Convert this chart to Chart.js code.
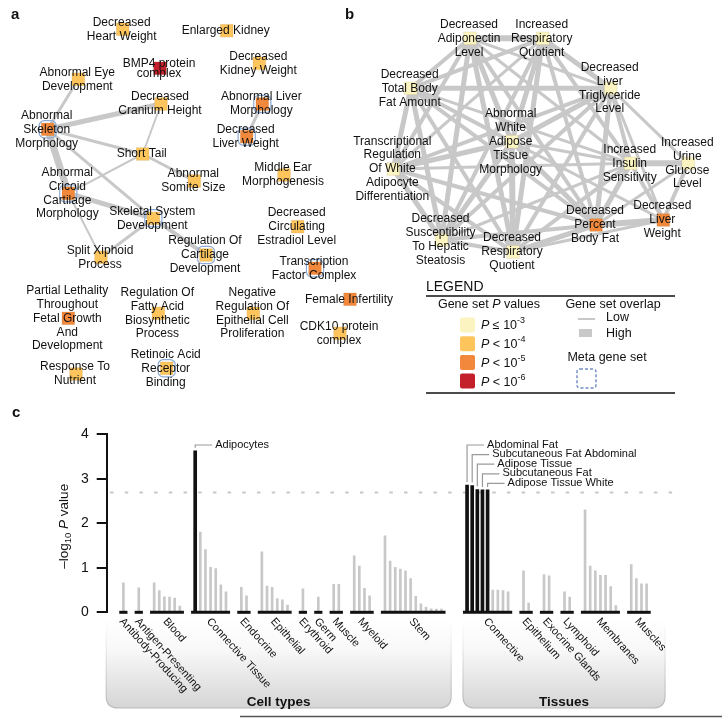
<!DOCTYPE html>
<html>
<head>
<meta charset="utf-8">
<script src="https://cdn.jsdelivr.net/npm/chart.js@4.4.1/dist/chart.umd.min.js"></script>
<style>
  body { margin: 0; background: #fff; }
  #page { position: relative; width: 722px; height: 719px; overflow: hidden; }
  canvas { position: absolute; }
  #chartA { left: 0; top: 0; }
  #chartB { left: 340px; top: 0; }
  #chartC { left: 0; top: 395px; }
</style>
</head>
<body>
<div id="page">
  <canvas id="chartA" width="400" height="400"></canvas>
  <canvas id="chartB" width="382" height="400"></canvas>
  <canvas id="chartC" width="722" height="324"></canvas>
</div>
<script>
// SETTINGS -------------------------------------------------------------------

const FONT = '"Liberation Sans", Arial, Helvetica, sans-serif'
Chart.defaults.font.family = FONT
Chart.defaults.animation = false

// P value classes: 1 = P <= 10^-3 ... 4 = P < 10^-6
const levelColors = ['#fbf4c1', '#fdc55c', '#f1883b', '#c3202b']
const levelSigns = ['≤', '<', '<', '<']
const levelExponents = ['-3', '-4', '-5', '-6']
const edgeColor = '#c8c8c8'

// PANEL A DATA ---------------------------------------------------------------

const aLabels = [
    ['Decreased', 'Heart Weight'],
    ['Enlarged Kidney'],
    ['BMP4 protein', 'complex'],
    ['Decreased', 'Kidney Weight'],
    ['Abnormal Eye', 'Development'],
    ['Decreased', 'Cranium Height'],
    ['Abnormal Liver', 'Morphology'],
    ['Abnormal', 'Skeleton', 'Morphology'],
    ['Decreased', 'Liver Weight'],
    ['Short Tail'],
    ['Abnormal', 'Somite Size'],
    ['Middle Ear', 'Morphogenesis'],
    ['Abnormal', 'Cricoid', 'Cartilage', 'Morphology'],
    ['Skeletal System', 'Development'],
    ['Decreased', 'Circulating', 'Estradiol Level'],
    ['Split Xiphoid', 'Process'],
    ['Regulation Of', 'Cartilage', 'Development'],
    ['Transcription', 'Factor Complex'],
    ['Partial Lethality', 'Throughout', 'Fetal Growth', 'And', 'Development'],
    ['Regulation Of', 'Fatty Acid', 'Biosynthetic', 'Process'],
    ['Negative', 'Regulation Of', 'Epithelial Cell', 'Proliferation'],
    ['Female Infertility'],
    ['CDK10 protein', 'complex'],
    ['Retinoic Acid', 'Receptor', 'Binding'],
    ['Response To', 'Nutrient']
]
const aX = [122.7, 226.7, 160, 259.3, 78.3, 161, 262.3, 47.7, 246.7, 142.7, 194.3, 284, 68.3,
    153.3, 297.7, 101, 206, 315, 68.3, 158.3, 253.3, 350, 340, 166.7, 76]
const aY = [29.3, 30.7, 68.3, 63.3, 79.3, 104, 104, 129.3, 136.7, 154, 181, 175, 193.3,
    218.3, 226.7, 257.3, 255, 268.3, 318.3, 313.3, 313.3, 299.3, 333.3, 368.3, 374]
const aLevel = [2, 2, 4, 2, 2, 2, 3, 3, 3, 2, 2, 2, 3, 2, 2, 2, 2, 3, 3, 2, 2, 3, 2, 2, 2]
const aMeta = [6, 7, 8, 12, 13, 16, 17, 23]
// [from, to, overlap width]
const aEdges = [
    [4, 7, 3], [5, 7, 5], [5, 9, 2], [7, 9, 3], [7, 12, 7], [7, 13, 3], [9, 10, 3],
    [9, 12, 2], [6, 8, 3], [12, 13, 5], [12, 15, 2], [13, 15, 3], [13, 16, 4]
]

// PANEL B DATA ---------------------------------------------------------------

const bLabels = [
    ['Decreased', 'Adiponectin', 'Level'],
    ['Increased', 'Respiratory', 'Quotient'],
    ['Decreased', 'Total Body', 'Fat Amount'],
    ['Decreased', 'Liver', 'Triglyceride', 'Level'],
    ['Abnormal', 'White', 'Adipose', 'Tissue', 'Morphology'],
    ['Transcriptional', 'Regulation', 'Of White', 'Adipocyte', 'Differentiation'],
    ['Increased', 'Insulin', 'Sensitivity'],
    ['Increased', 'Urine', 'Glucose', 'Level'],
    ['Decreased', 'Susceptibility', 'To Hepatic', 'Steatosis'],
    ['Decreased', 'Respiratory', 'Quotient'],
    ['Decreased', 'Percent', 'Body Fat'],
    ['Decreased', 'Liver', 'Weight']
]
const bX = [470, 542.7, 410.7, 610.7, 511.7, 393.3, 630.7, 688.3, 441.5, 513, 596, 663.3]
const bY = [38.3, 38.3, 88.3, 88.3, 141.7, 169, 163.3, 163.3, 240, 252, 225, 220]
const bLevel = [1, 1, 1, 1, 1, 1, 1, 1, 1, 1, 3, 3]
const bEdges = [
    [0, 1, 6], [0, 2, 4], [0, 3, 3], [0, 4, 5], [0, 5, 4], [0, 6, 3], [0, 8, 5], [0, 9, 5], [0, 10, 4],
    [1, 2, 4], [1, 3, 5], [1, 4, 5], [1, 5, 3], [1, 6, 4], [1, 8, 4], [1, 9, 5], [1, 10, 4],
    [2, 3, 5], [2, 4, 4], [2, 5, 5], [2, 6, 3], [2, 8, 5], [2, 9, 4], [2, 10, 4],
    [3, 4, 5], [3, 5, 4], [3, 6, 4], [3, 7, 3], [3, 8, 4], [3, 9, 4], [3, 10, 5], [3, 11, 3],
    [4, 5, 5], [4, 6, 3], [4, 8, 5], [4, 9, 6], [4, 10, 5], [4, 11, 3],
    [5, 6, 3], [5, 8, 5], [5, 9, 4], [5, 10, 4],
    [6, 7, 6], [6, 8, 3], [6, 9, 4], [6, 10, 5], [6, 11, 4],
    [7, 10, 3], [7, 11, 4],
    [8, 9, 4], [8, 10, 4], [9, 10, 5], [9, 11, 3], [10, 11, 6]
]

// PANEL C DATA ---------------------------------------------------------------

const cellGroups = ['Antibody-Producing', 'Antigen-Presenting', 'Blood', 'Connective Tissue', 'Endocrine',
    'Epithelial', 'Erythroid', 'Germ', 'Muscle', 'Myeloid', 'Stem']
const cellValues = [
    [0.66],
    [0.55],
    [0.66, 0.49, 0.35, 0.34, 0.32, 0.14],
    [3.63, 1.80, 1.41, 1.01, 0.98, 0.62, 0.46],
    [0.56, 0.37],
    [1.36, 0.59, 0.56, 0.31, 0.28, 0.16],
    [0.53],
    [0.34],
    [0.63, 0.63],
    [1.27, 1.04, 0.54, 0.37],
    [1.72, 1.15, 1.01, 0.97, 0.93, 0.76, 0.36, 0.19, 0.12, 0.08, 0.07, 0.07]
]
const tissueGroups = ['Connective', 'Epithelium', 'Exocrine Glands', 'Lymphoid', 'Membranes', 'Muscles']
const tissueValues = [
    [2.86, 2.85, 2.76, 2.75, 2.75, 0.50, 0.50, 0.49, 0.46],
    [0.93, 0.21],
    [0.85, 0.82],
    [0.46, 0.34],
    [2.30, 1.04, 0.93, 0.83, 0.83, 0.58, 0.15],
    [1.07, 0.76, 0.64, 0.64]
]
const threshold = 2.69
const cellHits = ['Adipocytes']
const tissueHits = ['Abdominal Fat', 'Subcutaneous Fat Abdominal', 'Adipose Tissue', 'Subcutaneous Fat', 'Adipose Tissue White']
const yTicks = [0, 1, 2, 3, 4]

// HELPER FUNCTIONS -----------------------------------------------------------

// draws text made of parts with own font / vertical shift
function drawRich(ctx, parts, x, y, align) {
    let total = 0
    parts.forEach((p) => {
        ctx.font = p.font
        p.w = ctx.measureText(p.text).width
        total += p.w
    })
    let cx = align === 'center' ? x - total / 2 : x
    ctx.textAlign = 'left'
    parts.forEach((p) => {
        ctx.font = p.font
        ctx.fillText(p.text, cx, y + (p.dy || 0))
        cx += p.w
    })
}

function roundRect(ctx, x, y, w, h, r) {
    ctx.beginPath()
    ctx.moveTo(x + r, y)
    ctx.lineTo(x + w - r, y)
    ctx.quadraticCurveTo(x + w, y, x + w, y + r)
    ctx.lineTo(x + w, y + h - r)
    ctx.quadraticCurveTo(x + w, y + h, x + w - r, y + h)
    ctx.lineTo(x + r, y + h)
    ctx.quadraticCurveTo(x, y + h, x, y + h - r)
    ctx.lineTo(x, y + r)
    ctx.quadraticCurveTo(x, y, x + r, y)
    ctx.closePath()
}

function labelPlugin(labels, extraDraw) {
    return {
        id: 'nodeLabels',
        afterDatasetsDraw(chart) {
            const meta = chart.getDatasetMeta(0)
            const ctx = chart.ctx
            ctx.save()
            ctx.font = `12px ${FONT}`
            ctx.fillStyle = '#111'
            ctx.textAlign = 'center'
            ctx.textBaseline = 'middle'
            labels.forEach((lines, i) => {
                const pt = meta.data[i]
                const lh = lines[0] === 'BMP4 protein' ? 10 : 13.9
                const top = pt.y - (lines.length - 1) * lh / 2
                lines.forEach((line, k) => ctx.fillText(line, pt.x - 1, top + k * lh))
            })
            if (extraDraw) extraDraw(chart, ctx)
            ctx.restore()
        }
    }
}

// NETWORK CHARTS -------------------------------------------------------------

function buildNetwork(canvasId, labels, xs, ys, levels, metaNodes, edges, xRange, extraDraw) {
    const node = (i) => ({x: xs[i], y: ys[i]})
    const datasets = [
        {
            data: xs.map((x, i) => node(i)),
            pointStyle: 'rect',
            pointRadius: 9,
            pointBackgroundColor: levels.map((l) => levelColors[l - 1]),
            pointBorderColor: 'rgba(120,100,40,0.12)',
            pointBorderWidth: 1,
            order: 0
        },
        {
            data: metaNodes.map((i) => node(i)),
            pointStyle: 'rectRounded',
            pointRadius: 10,
            pointBackgroundColor: 'rgba(0,0,0,0)',
            pointBorderColor: '#8dabd6',
            pointBorderWidth: 1.2,
            order: 1
        }
    ]
    edges.forEach(([a, b, w]) => datasets.push({
        data: [node(a), node(b)],
        showLine: true,
        borderColor: edgeColor,
        borderWidth: w,
        pointRadius: 0,
        order: 2
    }))
    new Chart(document.getElementById(canvasId), {
        type: 'scatter',
        data: {datasets: datasets},
        options: {
            responsive: false,
            animation: false,
            events: [],
            layout: {padding: 0, autoPadding: false},
            plugins: {legend: {display: false}, tooltip: {enabled: false}},
            scales: {
                x: {type: 'linear', display: false, min: xRange[0], max: xRange[1]},
                y: {type: 'linear', display: false, min: 0, max: 400, reverse: true}
            }
        },
        plugins: [labelPlugin(labels, extraDraw)]
    })
}

function drawLetter(ctx, text, x, y) {
    ctx.font = `bold 15px ${FONT}`
    ctx.fillStyle = '#111'
    ctx.textAlign = 'left'
    ctx.textBaseline = 'alphabetic'
    ctx.fillText(text, x, y)
}

function drawLegendB(chart, ctx) {
    const px = (v) => chart.scales.x.getPixelForValue(v)
    const py = (v) => chart.scales.y.getPixelForValue(v)
    drawLetter(ctx, 'b', px(345), py(19))

    ctx.fillStyle = '#111'
    ctx.textBaseline = 'middle'
    ctx.font = `14px ${FONT}`
    ctx.textAlign = 'left'
    ctx.fillText('LEGEND', px(426), py(287))
    ctx.strokeStyle = '#111'
    ctx.lineWidth = 1.5
    ctx.beginPath()
    ctx.moveTo(px(426), py(296)); ctx.lineTo(px(675), py(296))
    ctx.moveTo(px(426), py(393)); ctx.lineTo(px(675), py(393))
    ctx.stroke()

    const f = `12.5px ${FONT}`
    const fi = `italic 12.5px ${FONT}`
    drawRich(ctx, [{text: 'Gene set ', font: f}, {text: 'P', font: fi}, {text: ' values', font: f}], px(489), py(305), 'center')
    levelColors.forEach((c, i) => {
        const cy = py(325 + i * 18.7)
        ctx.fillStyle = c
        roundRect(ctx, px(460), cy - 7.5, 15, 15, 2)
        ctx.fill()
        ctx.fillStyle = '#111'
        drawRich(ctx, [
            {text: 'P', font: fi},
            {text: ` ${levelSigns[i]} 10`, font: f},
            {text: levelExponents[i], font: `9px ${FONT}`, dy: -5}
        ], px(481), cy + 1, 'left')
    })

    ctx.textAlign = 'center'
    ctx.font = f
    ctx.fillText('Gene set overlap', px(613), py(305))
    ctx.textAlign = 'left'
    ctx.fillText('Low', px(606), py(318))
    ctx.fillText('High', px(606), py(334))
    ctx.strokeStyle = edgeColor
    ctx.lineWidth = 2
    ctx.beginPath(); ctx.moveTo(px(578), py(319)); ctx.lineTo(px(595), py(319)); ctx.stroke()
    ctx.fillStyle = edgeColor
    ctx.fillRect(px(579), py(329), 13, 8)

    ctx.fillStyle = '#111'
    ctx.textAlign = 'center'
    ctx.fillText('Meta gene set', px(607), py(358))
    ctx.strokeStyle = '#7590c4'
    ctx.lineWidth = 1.5
    ctx.setLineDash([3, 2])
    roundRect(ctx, px(577), py(369), 19, 19, 3)
    ctx.stroke()
    ctx.setLineDash([])
}

buildNetwork('chartA', aLabels, aX, aY, aLevel, aMeta, aEdges, [0, 400],
    (chart, ctx) => drawLetter(ctx, 'a', chart.scales.x.getPixelForValue(11), chart.scales.y.getPixelForValue(19)))
buildNetwork('chartB', bLabels, bX, bY, bLevel, [], bEdges, [340, 722], drawLegendB)

// BAR CHART ------------------------------------------------------------------

function layoutGroups(names, values, start) {
    let pos = start
    return names.map((name, i) => {
        const g = {name: name, first: pos, last: pos + values[i].length - 1, values: values[i]}
        pos = g.last + 3
        return g
    })
}

const cellLayout = layoutGroups(cellGroups, cellValues, 0)
const cellEnd = cellLayout[cellLayout.length - 1].last
const tissueLayout = layoutGroups(tissueGroups, tissueValues, cellEnd + 5)
const allGroups = cellLayout.concat(tissueLayout)

const grayBars = []
const blackBars = []
allGroups.forEach((g) => g.values.forEach((v, k) => (v > threshold ? blackBars : grayBars).push({x: g.first + k, y: v})))

const underlines = allGroups.map((g) => ({
    type: 'line',
    data: [{x: g.first - 0.8, y: 0}, {x: g.last + 0.8, y: 0}],
    borderColor: '#111',
    borderWidth: 3,
    pointRadius: 0,
    clip: false,
    order: 1
}))

const barDecorations = {
    id: 'barDecorations',
    beforeDatasetsDraw(chart) {
        const ctx = chart.ctx
        const xs = chart.scales.x
        const panels = [
            [xs.getPixelForValue(cellLayout[0].first - 3.35), xs.getPixelForValue(cellEnd + 1.9), 'Cell types'],
            [xs.getPixelForValue(tissueLayout[0].first - 0.8), xs.getPixelForValue(tissueLayout[tissueLayout.length - 1].last + 3.6), 'Tissues']
        ]
        const top = 224, bottom = 313
        ctx.save()
        panels.forEach(([l, r, title]) => {
            const fill = ctx.createLinearGradient(0, top, 0, bottom)
            fill.addColorStop(0, 'rgba(255,255,255,1)')
            fill.addColorStop(0.35, 'rgba(248,248,248,1)')
            fill.addColorStop(1, '#d5d5d5')
            const line = ctx.createLinearGradient(0, top, 0, bottom)
            line.addColorStop(0, 'rgba(200,200,200,0)')
            line.addColorStop(1, '#b8b8b8')
            roundRect(ctx, l, top, r - l, bottom - top, 12)
            ctx.fillStyle = fill
            ctx.fill()
            ctx.strokeStyle = line
            ctx.lineWidth = 1.2
            ctx.stroke()
            ctx.fillStyle = '#111'
            ctx.font = `bold 13.5px ${FONT}`
            ctx.textAlign = 'center'
            ctx.textBaseline = 'alphabetic'
            ctx.fillText(title, (l + r) / 2, 311)
        })
        ctx.restore()
    },
    afterDraw(chart) {
        const ctx = chart.ctx
        const xs = chart.scales.x
        const ys = chart.scales.y
        ctx.save()
        // group labels
        ctx.fillStyle = '#111'
        ctx.font = `11px ${FONT}`
        ctx.textAlign = 'left'
        ctx.textBaseline = 'top'
        allGroups.forEach((g) => {
            ctx.save()
            ctx.translate(xs.getPixelForValue((g.first + g.last) / 2) + 2, 221)
            ctx.rotate(48 * Math.PI / 180)
            ctx.fillText(g.name, 0, 0)
            ctx.restore()
        })
        // labels of significant bars
        ctx.strokeStyle = '#9a9a9a'
        ctx.lineWidth = 1.2
        ctx.textBaseline = 'middle'
        const cellSig = blackBars.filter((b) => b.x <= cellEnd)
        const tissueSig = blackBars.filter((b) => b.x > cellEnd)
        ;[[cellSig, cellHits], [tissueSig, tissueHits]].forEach(([bars, names]) => {
            bars.forEach((b, i) => {
                const bx = xs.getPixelForValue(b.x)
                const by = ys.getPixelForValue(b.y)
                const ly = ys.getPixelForValue(3.76) + i * 9.6
                ctx.beginPath()
                ctx.moveTo(bx, by - 3)
                ctx.lineTo(bx, ly)
                ctx.lineTo(bx + 17, ly)
                ctx.stroke()
                ctx.fillText(names[i], bx + 20, ly - 0.5)
            })
        })
        // y axis title
        ctx.save()
        ctx.translate(64, ys.getPixelForValue(2) + 3)
        ctx.rotate(-Math.PI / 2)
        ctx.textBaseline = 'middle'
        const f = `13.5px ${FONT}`
        drawRich(ctx, [
            {text: '–log', font: f},
            {text: '10', font: `9.5px ${FONT}`, dy: 4},
            {text: ' ', font: f},
            {text: 'P', font: `italic 13.5px ${FONT}`},
            {text: ' value', font: f}
        ], 0, 0, 'center')
        ctx.restore()
        drawLetter(ctx, 'c', 12, 22)
        // rule at the bottom of the figure
        ctx.strokeStyle = '#555'
        ctx.lineWidth = 1.5
        ctx.beginPath()
        ctx.moveTo(240, 321.5)
        ctx.lineTo(722, 321.5)
        ctx.stroke()
        ctx.restore()
    }
}

new Chart(document.getElementById('chartC'), {
    type: 'bar',
    data: {
        datasets: [
            {
                type: 'line',
                data: [{x: -2.6, y: threshold}, {x: 108.9, y: threshold}],
                borderColor: '#c8c8c8',
                borderWidth: 2,
                borderDash: [3.5, 11.2],
                pointRadius: 0,
                order: 4
            },
            ...underlines,
            {data: blackBars, backgroundColor: '#111', barThickness: 3, grouped: false, order: 2},
            {data: grayBars, backgroundColor: '#c8c8c8', barThickness: 2, grouped: false, order: 3}
        ]
    },
    options: {
        responsive: false,
        animation: false,
        events: [],
        layout: {padding: {top: 39.3, bottom: 106.7, left: 0, right: 8.7}, autoPadding: false},
        plugins: {legend: {display: false}, tooltip: {enabled: false}},
        scales: {
            x: {type: 'linear', display: false, min: -3.25, max: 115, offset: false},
            y: {
                min: 0,
                max: 4,
                afterBuildTicks: (scale) => { scale.ticks = yTicks.map((v) => ({value: v})) },
                afterFit: (scale) => { scale.width = 106.7 },
                border: {display: true, color: '#111', width: 2},
                grid: {drawOnChartArea: false, drawTicks: true, tickLength: 10, color: '#111', lineWidth: 2},
                ticks: {color: '#111', font: {size: 14}, padding: 8}
            }
        }
    },
    plugins: [barDecorations]
})
</script>
</body>
</html>
